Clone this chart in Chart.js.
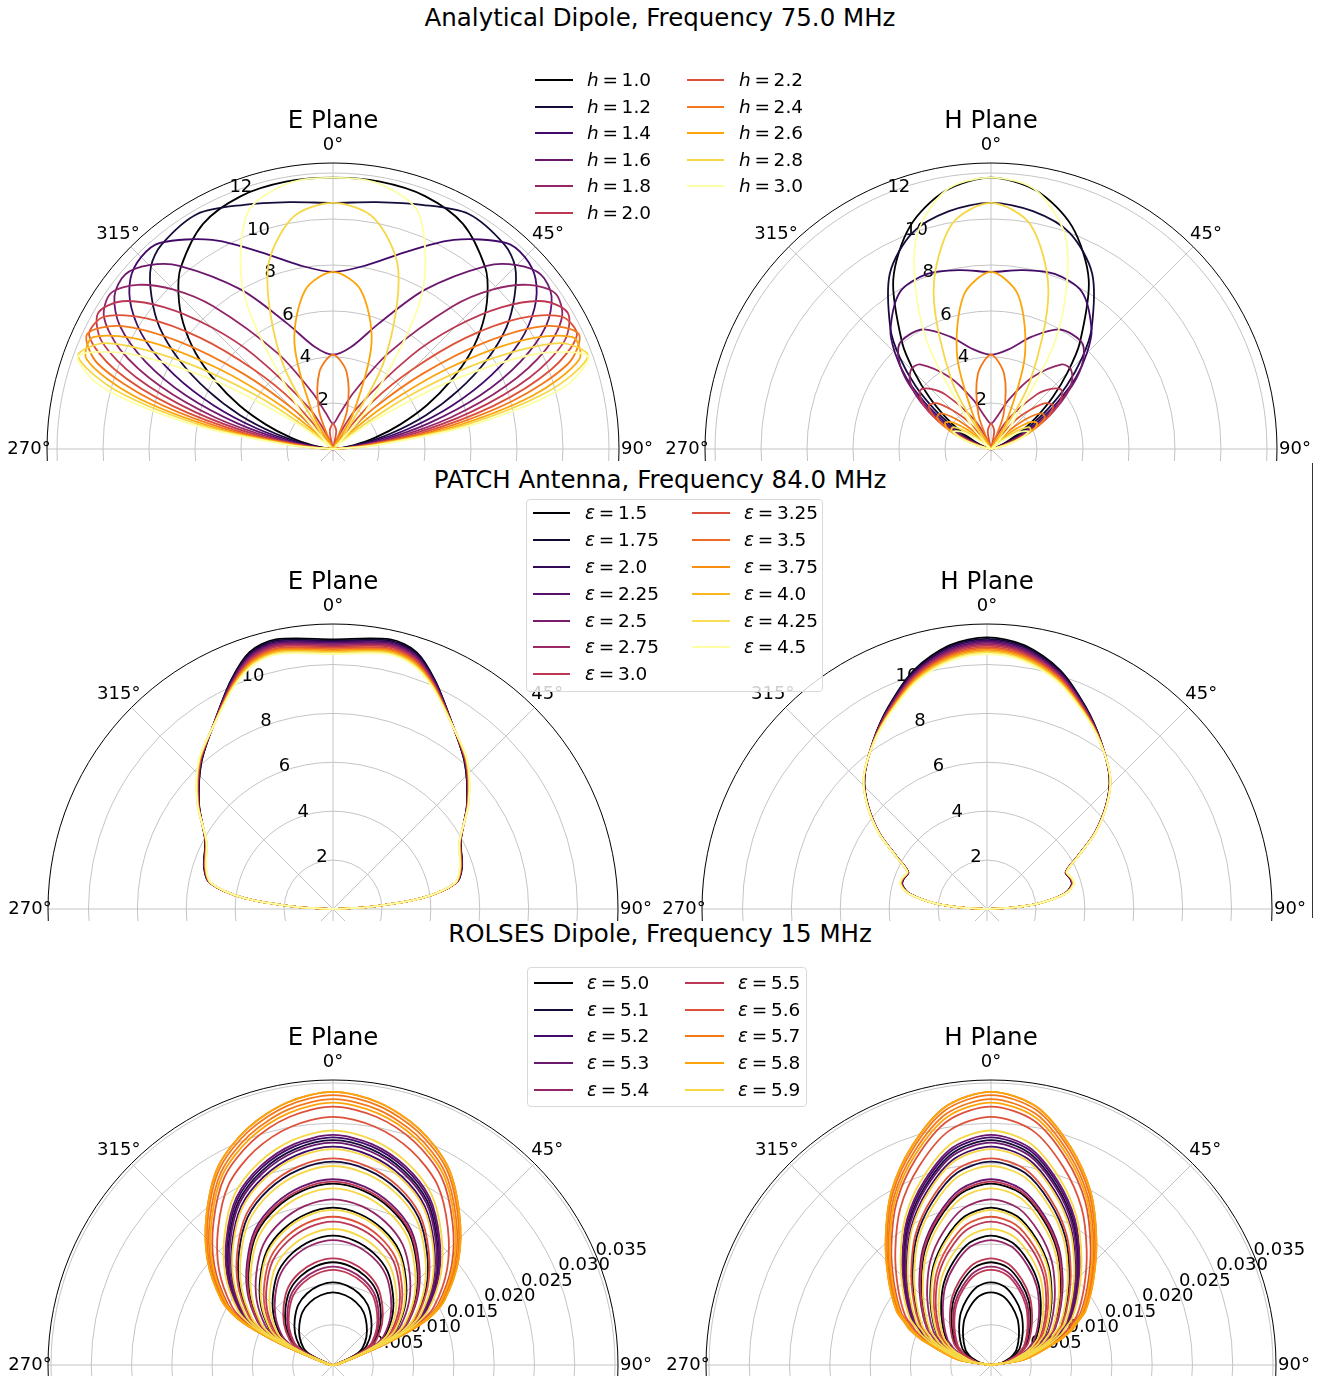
<!DOCTYPE html>
<html>
<head>
<meta charset="utf-8">
<script src="https://cdn.jsdelivr.net/npm/chart.js@4.4.1/dist/chart.umd.min.js"></script>
<style>
  body { margin: 0; background: #fff; }
  #page { position: relative; width: 1325px; height: 1376px; overflow: hidden; font-family: "DejaVu Sans", sans-serif; color: #000; }
  canvas { position: absolute; }
  .suptitle { position: absolute; left: 0; width: 1320px; text-align: center; font-size: 24.5px; line-height: 28px; }
  .legend { position: absolute; z-index: 5; }
  .legend.framed { background: rgba(255, 255, 255, 0.8); border: 1px solid #d9d9d9; border-radius: 4px; box-sizing: border-box; }
  .entry { position: absolute; z-index: 6; font-size: 18.5px; line-height: 22px; white-space: nowrap; }
  .swatch { position: absolute; z-index: 6; height: 2px; }
  #edge { position: absolute; left: 1312px; top: 463px; width: 1px; height: 455px; background: #333; }
</style>
</head>
<body>
<div id="page">
  <div class="suptitle" style="top:4px">Analytical Dipole, Frequency 75.0 MHz</div>
  <div class="suptitle" style="top:466px">PATCH Antenna, Frequency 84.0 MHz</div>
  <div class="suptitle" style="top:920px">ROLSES Dipole, Frequency 15 MHz</div>
  <div id="edge"></div>
</div>
<script>
// ---- Analytical dipole (row 1) ----
const dipoleHeights = [1.0, 1.2, 1.4, 1.6, 1.8, 2.0, 2.2, 2.4, 2.6, 2.8, 3.0];
const dipoleAngles = [0, 10, 20, 30, 40, 45, 50, 55, 60, 65, 70, 75, 80, 85, 90];
const dipoleE = [
    [11.8, 11.8, 11.7, 11.3, 10.3, 9.5, 8.5, 7.3, 5.9, 4.5, 3.1, 1.9, 0.9, 0.2, 0],
    [10.7, 10.9, 11.3, 11.8, 11.6, 11.2, 10.3, 9.2, 7.7, 6.0, 4.3, 2.6, 1.2, 0.3, 0],
    [7.7, 8.1, 9.1, 10.5, 11.7, 11.8, 11.5, 10.7, 9.4, 7.6, 5.5, 3.4, 1.6, 0.4, 0],
    [4.1, 4.5, 5.8, 8.0, 10.4, 11.3, 11.8, 11.6, 10.7, 9.0, 6.8, 4.3, 2.1, 0.6, 0],
    [1.1, 1.5, 2.6, 4.8, 8.1, 9.8, 11.1, 11.8, 11.5, 10.2, 8.0, 5.3, 2.6, 0.7, 0],
    [0, 0.0, 0.4, 2.0, 5.3, 7.5, 9.6, 11.2, 11.8, 11.1, 9.1, 6.2, 3.2, 0.9, 0],
    [1.1, 0.8, 0.1, 0.3, 2.7, 4.9, 7.5, 9.9, 11.5, 11.7, 10.1, 7.2, 3.8, 1.0, 0],
    [4.1, 3.4, 1.8, 0.2, 0.7, 2.5, 5.1, 8.1, 10.7, 11.8, 10.9, 8.1, 4.4, 1.2, 0],
    [7.7, 7.0, 4.9, 1.7, 0.0, 0.8, 2.9, 6.1, 9.4, 11.5, 11.4, 9.0, 5.0, 1.4, 0],
    [10.7, 10.2, 8.3, 4.5, 0.6, 0.0, 1.1, 4.0, 7.7, 10.9, 11.8, 9.7, 5.6, 1.7, 0],
    [11.8, 11.7, 10.9, 7.7, 2.4, 0.4, 0.2, 2.1, 5.9, 9.8, 11.8, 10.4, 6.3, 1.9, 0]
];
const dipoleH = [
    [11.8, 11.4, 10.3, 8.5, 6.0, 4.7, 3.5, 2.4, 1.5, 0.8, 0.4, 0.1, 0.0, 0, 0],
    [10.7, 10.5, 10.0, 8.8, 6.8, 5.6, 4.3, 3.0, 1.9, 1.1, 0.5, 0.2, 0.0, 0, 0],
    [7.7, 7.9, 8.1, 7.9, 6.8, 5.9, 4.8, 3.5, 2.3, 1.4, 0.6, 0.2, 0.1, 0, 0],
    [4.1, 4.4, 5.2, 6.0, 6.1, 5.7, 4.9, 3.8, 2.7, 1.6, 0.8, 0.3, 0.1, 0, 0],
    [1.1, 1.4, 2.3, 3.6, 4.8, 4.9, 4.6, 3.9, 2.9, 1.8, 0.9, 0.4, 0.1, 0, 0],
    [0, 0.0, 0.4, 1.5, 3.1, 3.7, 4.0, 3.7, 3.0, 2.0, 1.1, 0.4, 0.1, 0, 0],
    [1.1, 0.8, 0.1, 0.2, 1.6, 2.4, 3.1, 3.3, 2.9, 2.1, 1.2, 0.5, 0.1, 0, 0],
    [4.1, 3.3, 1.6, 0.1, 0.4, 1.2, 2.1, 2.7, 2.7, 2.1, 1.3, 0.5, 0.1, 0, 0],
    [7.7, 6.8, 4.3, 1.3, 0.0, 0.4, 1.2, 2.0, 2.3, 2.1, 1.3, 0.6, 0.2, 0, 0],
    [10.7, 9.9, 7.3, 3.4, 0.4, 0.0, 0.5, 1.3, 1.9, 1.9, 1.4, 0.7, 0.2, 0, 0],
    [11.8, 11.4, 9.6, 5.8, 1.4, 0.2, 0.1, 0.7, 1.5, 1.8, 1.4, 0.7, 0.2, 0, 0]
];
const dipoleRTicks = [2, 4, 6, 8, 10, 12];

// ---- PATCH antenna (row 2) ----
const patchEps = [1.5, 1.75, 2.0, 2.25, 2.5, 2.75, 3.0, 3.25, 3.5, 3.75, 4.0, 4.25, 4.5];
const patchAnglesE = [0, 12, 18, 24, 32, 42, 52, 62, 72, 78, 83, 87, 90];
const patchE = [
    [11.03, 11.27, 11.05, 10.25, 9.10, 8.05, 6.95, 5.92, 5.55, 5.15, 3.65, 1.4, 0],
    [10.98, 11.22, 11.00, 10.23, 9.10, 8.06, 6.96, 5.91, 5.54, 5.15, 3.65, 1.4, 0],
    [10.93, 11.17, 10.96, 10.20, 9.09, 8.08, 6.97, 5.91, 5.53, 5.14, 3.65, 1.4, 0],
    [10.88, 11.12, 10.91, 10.18, 9.09, 8.09, 6.97, 5.90, 5.53, 5.14, 3.65, 1.4, 0],
    [10.83, 11.07, 10.87, 10.15, 9.08, 8.10, 6.98, 5.90, 5.52, 5.13, 3.65, 1.4, 0],
    [10.78, 11.02, 10.82, 10.13, 9.08, 8.11, 6.99, 5.89, 5.51, 5.13, 3.65, 1.4, 0],
    [10.73, 10.97, 10.78, 10.10, 9.08, 8.13, 7.00, 5.89, 5.50, 5.13, 3.65, 1.4, 0],
    [10.68, 10.91, 10.73, 10.08, 9.07, 8.14, 7.01, 5.88, 5.49, 5.12, 3.65, 1.4, 0],
    [10.63, 10.86, 10.68, 10.05, 9.07, 8.15, 7.02, 5.88, 5.48, 5.12, 3.65, 1.4, 0],
    [10.58, 10.81, 10.64, 10.03, 9.06, 8.16, 7.02, 5.87, 5.48, 5.11, 3.65, 1.4, 0],
    [10.53, 10.76, 10.59, 10.00, 9.06, 8.18, 7.03, 5.86, 5.47, 5.11, 3.65, 1.4, 0],
    [10.48, 10.71, 10.55, 9.98, 9.05, 8.19, 7.04, 5.86, 5.46, 5.10, 3.65, 1.4, 0],
    [10.43, 10.66, 10.50, 9.95, 9.05, 8.20, 7.05, 5.85, 5.45, 5.10, 3.65, 1.4, 0]
];
const patchAnglesH = [0, 8, 17, 26, 34, 43, 49, 55, 60, 65, 70, 74, 79, 84, 87, 90];
const patchH = [
    [11.11, 10.90, 10.22, 9.20, 8.31, 7.35, 6.45, 5.35, 4.25, 3.55, 3.62, 3.60, 3.20, 2.1, 1.0, 0],
    [11.05, 10.85, 10.18, 9.18, 8.31, 7.35, 6.45, 5.35, 4.25, 3.55, 3.63, 3.61, 3.20, 2.1, 1.0, 0],
    [11.00, 10.80, 10.14, 9.16, 8.30, 7.36, 6.46, 5.36, 4.26, 3.56, 3.63, 3.62, 3.21, 2.1, 1.0, 0],
    [10.94, 10.74, 10.10, 9.14, 8.30, 7.36, 6.46, 5.36, 4.26, 3.56, 3.64, 3.62, 3.21, 2.1, 1.0, 0],
    [10.88, 10.69, 10.06, 9.12, 8.29, 7.37, 6.47, 5.37, 4.27, 3.57, 3.65, 3.63, 3.22, 2.1, 1.0, 0],
    [10.83, 10.64, 10.02, 9.10, 8.29, 7.37, 6.47, 5.37, 4.27, 3.57, 3.65, 3.64, 3.22, 2.1, 1.0, 0],
    [10.77, 10.59, 9.99, 9.08, 8.28, 7.38, 6.48, 5.38, 4.28, 3.58, 3.66, 3.65, 3.23, 2.1, 1.0, 0],
    [10.71, 10.53, 9.95, 9.05, 8.28, 7.38, 6.48, 5.38, 4.28, 3.58, 3.67, 3.66, 3.23, 2.1, 1.0, 0],
    [10.66, 10.48, 9.91, 9.03, 8.27, 7.38, 6.48, 5.38, 4.28, 3.58, 3.67, 3.67, 3.23, 2.1, 1.0, 0],
    [10.60, 10.43, 9.87, 9.01, 8.27, 7.39, 6.49, 5.39, 4.29, 3.59, 3.68, 3.67, 3.24, 2.1, 1.0, 0],
    [10.54, 10.38, 9.83, 8.99, 8.26, 7.39, 6.49, 5.39, 4.29, 3.59, 3.69, 3.68, 3.24, 2.1, 1.0, 0],
    [10.49, 10.32, 9.79, 8.97, 8.26, 7.40, 6.50, 5.40, 4.30, 3.60, 3.69, 3.69, 3.25, 2.1, 1.0, 0],
    [10.43, 10.27, 9.75, 8.95, 8.25, 7.40, 6.50, 5.40, 4.30, 3.60, 3.70, 3.70, 3.25, 2.1, 1.0, 0]
];
const patchRTicks = [2, 4, 6, 8, 10];

// ---- ROLSES dipole (row 3) ----
const rolsesEps = [5.0, 5.1, 5.2, 5.3, 5.4, 5.5, 5.6, 5.7, 5.8, 5.9];
const rolsesAngles = [0, 10, 20, 30, 40, 50, 60, 64, 66, 68, 70, 80, 90];
const rolsesShapeE = [1, 0.975, 0.92, 0.84, 0.72, 0.6, 0.47, 0.39, 0.31, 0.21, 0.11, 0.02, 0];
const rolsesShapeH = [1, 0.96, 0.85, 0.73, 0.6, 0.49, 0.4, 0.35, 0.33, 0.3, 0.27, 0.13, 0];
const rolsesPeaks = [
    [0.00902, 0.01026, 0.01275, 0.01605, 0.01952, 0.0225],
    [0.0279, 0.02523],
    [0.02826, 0.0271],
    [0.02855, 0.0276, 0.02305],
    [0.02056, 0.01551, 0.0122],
    [0.02275, 0.01779, 0.01324, 0.0118],
    [0.03206, 0.0308, 0.02565, 0.0184],
    [0.0339, 0.0335, 0.0330],
    [0.0339, 0.03256],
    [0.0291, 0.0268, 0.0247, 0.02193, 0.01924, 0.01688]
];
const rolsesRTicks = [0.005, 0.010, 0.015, 0.020, 0.025, 0.030, 0.035];

const thetaTicks = [0, 45, 90, 135, 180, 225, 270, 315];

// inferno colour stops
const INFERNO = ['#000004', '#160b39', '#420a68', '#6a176e', '#932667', '#bc3754',
                 '#dd513a', '#f37819', '#fca50a', '#f6d746', '#fcffa4'];
function inferno(t) {
    const s = Math.max(0, Math.min(1, t)) * 10;
    const i = Math.min(9, Math.floor(s));
    const f = s - i;
    const a = INFERNO[i], b = INFERNO[i + 1];
    const c = [1, 3, 5].map(k => {
        const va = parseInt(a.substr(k, 2), 16), vb = parseInt(b.substr(k, 2), 16);
        return Math.round(va + (vb - va) * f);
    });
    return 'rgb(' + c.join(',') + ')';
}

function polarPoints(angles, radii) {
    const pts = [];
    for (let k = angles.length - 1; k > 0; k--) {
        const a = -angles[k] * Math.PI / 180;
        pts.push({ x: radii[k] * Math.sin(a), y: radii[k] * Math.cos(a) });
    }
    for (let k = 0; k < angles.length; k++) {
        const a = angles[k] * Math.PI / 180;
        pts.push({ x: radii[k] * Math.sin(a), y: radii[k] * Math.cos(a) });
    }
    return pts;
}

function lineSet(points, color, order) {
    return {
        data: points, showLine: true, borderColor: color, backgroundColor: color,
        borderWidth: 1.8, pointRadius: 0, tension: 0.3, fill: false, order: order
    };
}

const polarFrame = {
    id: 'polarFrame',
    beforeDatasetsDraw(chart, args, o) {
        const ctx = chart.ctx;
        const xs = chart.scales.x, ys = chart.scales.y;
        const cx = xs.getPixelForValue(0), cy = ys.getPixelForValue(0);
        const R = xs.getPixelForValue(o.rmax) - cx;
        ctx.save();
        ctx.lineWidth = 1;
        ctx.strokeStyle = '#c4c4c4';
        o.rTicks.forEach(t => {
            ctx.beginPath();
            ctx.arc(cx, cy, xs.getPixelForValue(t) - cx, 0, 2 * Math.PI);
            ctx.stroke();
        });
        thetaTicks.forEach(a => {
            const rad = a * Math.PI / 180;
            ctx.beginPath();
            ctx.moveTo(cx, cy);
            ctx.lineTo(cx + R * Math.sin(rad), cy - R * Math.cos(rad));
            ctx.stroke();
        });
        ctx.strokeStyle = '#000';
        ctx.beginPath();
        ctx.arc(cx, cy, R, 0, 2 * Math.PI);
        ctx.stroke();

        ctx.fillStyle = '#000';
        ctx.font = '18px "DejaVu Sans"';
        ctx.textAlign = 'left';
        ctx.textBaseline = 'alphabetic';
        const la = o.rLabelAngle * Math.PI / 180;
        o.rTicks.forEach(t => {
            const r = xs.getPixelForValue(t) - cx;
            const txt = o.rDigits ? t.toFixed(o.rDigits) : String(t);
            ctx.fillText(txt, cx + r * Math.sin(la) + 2, cy - r * Math.cos(la) - 2);
        });

        ctx.textAlign = 'center';
        ctx.textBaseline = 'middle';
        thetaTicks.forEach(a => {
            const rad = a * Math.PI / 180;
            ctx.fillText(a + '°', cx + (R + 18) * Math.sin(rad), cy - (R + 18) * Math.cos(rad));
        });
        ctx.font = '24.5px "DejaVu Sans"';
        ctx.fillText(o.title, cx, cy - R - 41);
        ctx.restore();
    }
};

const page = document.getElementById('page');

function makePolar(p) {
    const left = Math.max(0, p.cx - p.R - 62);
    const right = Math.min(1325, p.cx + p.R + 62);
    const top = p.cy - p.R - 80;
    const bottom = Math.min(1376, p.cy + 12);
    const canvas = document.createElement('canvas');
    canvas.width = right - left;
    canvas.height = bottom - top;
    canvas.style.left = left + 'px';
    canvas.style.top = top + 'px';
    page.appendChild(canvas);
    const ext = bottom - p.cy;
    new Chart(canvas, {
        type: 'scatter',
        data: { datasets: p.datasets },
        options: {
            responsive: false,
            animation: false,
            layout: { padding: { left: p.cx - p.R - left, right: right - p.cx - p.R, top: p.cy - p.R - top, bottom: 0 } },
            scales: {
                x: { type: 'linear', min: -p.rmax, max: p.rmax, display: false },
                y: { type: 'linear', min: -ext / p.R * p.rmax, max: p.rmax, display: false }
            },
            plugins: {
                legend: { display: false },
                tooltip: { enabled: false },
                polarFrame: { rmax: p.rmax, rTicks: p.rTicks, rLabelAngle: p.rLabelAngle, rDigits: p.rDigits, title: p.title }
            }
        },
        plugins: [polarFrame]
    });
}

function familySets(angles, series) {
    const n = series.length;
    return series.map((radii, i) => lineSet(polarPoints(angles, radii), inferno(i / (n - 1)), n - i));
}

function rolsesSets(shape) {
    const sets = [];
    let order = 200;
    rolsesPeaks.forEach((peaks, e) => {
        peaks.forEach(pk => {
            sets.push(lineSet(polarPoints(rolsesAngles, shape.map(s => s * pk)), inferno(e / 10), order--));
        });
    });
    return sets;
}

makePolar({ cx: 333, cy: 449, R: 286, rmax: 12.435, rTicks: dipoleRTicks, rLabelAngle: -22.5, title: 'E Plane',
            datasets: familySets(dipoleAngles, dipoleE) });
makePolar({ cx: 991, cy: 449, R: 286, rmax: 12.435, rTicks: dipoleRTicks, rLabelAngle: -22.5, title: 'H Plane',
            datasets: familySets(dipoleAngles, dipoleH) });
makePolar({ cx: 333, cy: 909, R: 285, rmax: 11.656, rTicks: patchRTicks, rLabelAngle: -22.5, title: 'E Plane',
            datasets: familySets(patchAnglesE, patchE) });
makePolar({ cx: 987, cy: 909, R: 285, rmax: 11.656, rTicks: patchRTicks, rLabelAngle: -22.5, title: 'H Plane',
            datasets: familySets(patchAnglesH, patchH) });
makePolar({ cx: 333, cy: 1365, R: 285, rmax: 0.03537, rTicks: rolsesRTicks, rLabelAngle: 67.5, rDigits: 3, title: 'E Plane',
            datasets: rolsesSets(rolsesShapeE) });
makePolar({ cx: 991, cy: 1365, R: 285, rmax: 0.03537, rTicks: rolsesRTicks, rLabelAngle: 67.5, rDigits: 3, title: 'H Plane',
            datasets: rolsesSets(rolsesShapeH) });

// ---- legends ----
function fmt(v) { return Number.isInteger(v * 10) ? v.toFixed(1) : String(v); }

function makeLegend(L) {
    if (L.box) {
        const box = document.createElement('div');
        box.className = 'legend framed';
        box.style.left = L.box[0] + 'px';
        box.style.top = L.box[1] + 'px';
        box.style.width = (L.box[2] - L.box[0]) + 'px';
        box.style.height = (L.box[3] - L.box[1]) + 'px';
        page.appendChild(box);
    }
    L.labels.forEach((lab, i) => {
        const col = Math.floor(i / L.perCol), row = i % L.perCol;
        const y = L.y0 + row * L.step;
        const sw = document.createElement('div');
        sw.className = 'swatch';
        sw.style.left = L.lines[col][0] + 'px';
        sw.style.width = (L.lines[col][1] - L.lines[col][0]) + 'px';
        sw.style.top = (y - 1) + 'px';
        sw.style.background = L.colors[i];
        page.appendChild(sw);
        const tx = document.createElement('div');
        tx.className = 'entry';
        tx.style.left = L.texts[col] + 'px';
        tx.style.top = (y - 11) + 'px';
        tx.innerHTML = '<i>' + L.symbol + '</i>\u2009=\u2009' + lab;
        page.appendChild(tx);
    });
}

makeLegend({ box: null, lines: [[535, 573], [687, 724]], texts: [587, 739], y0: 80, step: 26.6, perCol: 6, symbol: 'h',
             labels: dipoleHeights.map(fmt), colors: dipoleHeights.map((v, i) => inferno(i / 10)) });
makeLegend({ box: [526, 499, 823, 692], lines: [[533, 570], [692, 730]], texts: [585, 744], y0: 513.3, step: 26.8, perCol: 7, symbol: 'ε',
             labels: patchEps.map(fmt), colors: patchEps.map((v, i) => inferno(i / 12)) });
makeLegend({ box: [527, 967, 807, 1107], lines: [[534, 573], [685, 724]], texts: [587, 738], y0: 982.7, step: 26.8, perCol: 5, symbol: 'ε',
             labels: rolsesEps.map(fmt), colors: rolsesEps.map((v, i) => inferno(i / 10)) });
</script>
</body>
</html>
